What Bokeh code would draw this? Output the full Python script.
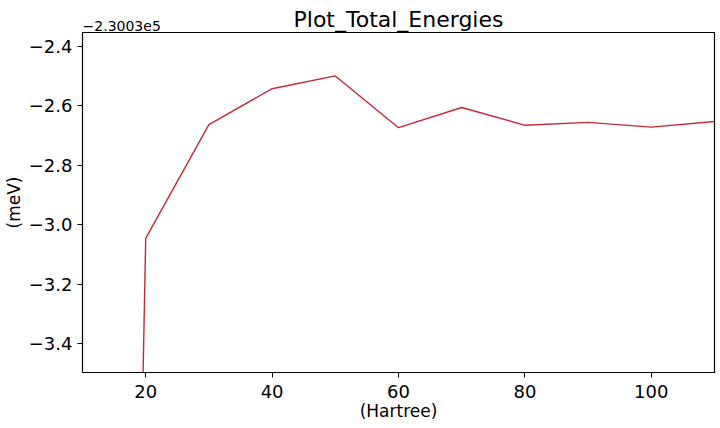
from bokeh.plotting import figure
from bokeh.models import FixedTicker, CustomJSTickFormatter, Range1d, LinearAxis
from bokeh.embed import file_html
from bokeh.resources import INLINE

# Data (energies relative to the axis offset)
TITLE = "Plot_Total_Energies"
OFFSET_LABEL = "\u22122.3003e5"
cutoff = [10, 20, 30, 40, 50, 60, 70, 80, 90, 100, 110]
energy_rel = [-14.0, -3.046, -2.664, -2.543, -2.500, -2.674, -2.606, -2.666, -2.656, -2.672, -2.653]
x_ticks = [20, 40, 60, 80, 100]
y_ticks = [-3.4, -3.2, -3.0, -2.8, -2.6, -2.4]
X_MIN, X_MAX = 10, 110
Y_MIN, Y_MAX = -3.497, -2.354
OFFSET_LABEL_X = 16.2  # data x where the (centred) offset text sits, so it starts at the frame's left edge

FONT = "DejaVu Sans"

p = figure(width=720, height=428, output_backend="svg", toolbar_location=None, title=None,
           x_range=Range1d(X_MIN, X_MAX), y_range=Range1d(Y_MIN, Y_MAX),
           min_border_left=81, min_border_right=6, min_border_top=32, min_border_bottom=56)

p.line(cutoff, energy_rel, line_color="#c42a36", line_width=1.4)

p.xgrid.visible = False
p.ygrid.visible = False
p.outline_line_color = "black"
p.outline_line_width = 1.2

for ax in (p.xaxis[0], p.yaxis[0]):
    ax.major_tick_out = 5
    ax.major_tick_in = 0
    ax.minor_tick_out = 0
    ax.minor_tick_in = 0
    ax.axis_line_color = "black"
    ax.major_label_text_font = FONT
    ax.major_label_text_font_size = "18px"
    ax.major_label_text_color = "black"
    ax.axis_label_text_font = FONT
    ax.axis_label_text_font_size = "17px"
    ax.axis_label_text_font_style = "normal"
    ax.axis_label_text_color = "black"

p.xaxis.ticker = FixedTicker(ticks=x_ticks)
p.yaxis.ticker = FixedTicker(ticks=y_ticks)
p.xaxis.axis_label = "(Hartree)"
p.yaxis.axis_label = "(meV)"
p.xaxis.major_label_standoff = 7
p.yaxis.major_label_standoff = 5
p.xaxis.axis_label_standoff = 0
p.yaxis.axis_label_standoff = 2
p.yaxis.formatter = CustomJSTickFormatter(code="return tick.toFixed(1).replace('-', '\\u2212');")
p.xaxis.formatter = CustomJSTickFormatter(code="return tick.toFixed(0);")

# Top axis: carries the offset text (at the left edge) and the chart title
top = LinearAxis(ticker=FixedTicker(ticks=[OFFSET_LABEL_X]),
                 formatter=CustomJSTickFormatter(code="return '%s';" % OFFSET_LABEL),
                 axis_line_color=None, major_tick_out=0, major_tick_in=0,
                 minor_tick_out=0, minor_tick_in=0,
                 major_label_text_font=FONT, major_label_text_font_size="14px",
                 major_label_text_color="black",
                 major_label_standoff=2,
                 axis_label=TITLE, axis_label_text_font=FONT, axis_label_text_font_size="22px",
                 axis_label_text_font_style="normal", axis_label_text_color="black",
                 axis_label_standoff=-14)
p.add_layout(top, "above")

open("out.html", "w").write(file_html(p, INLINE))
